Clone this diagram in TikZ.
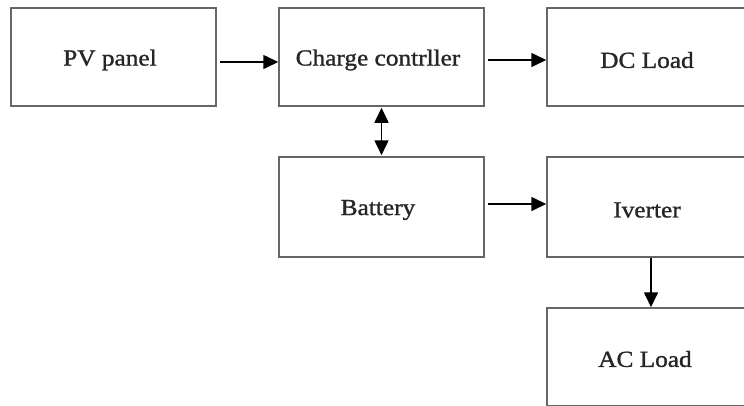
\documentclass[tikz,border=0pt]{standalone}
\usepackage{fontspec}
\newfontfamily\boxfont[FakeStretch=1.1,FakeBold=1.2]{Liberation Serif}
\usetikzlibrary{arrows.meta}
\begin{document}
\begin{tikzpicture}[x=1pt,y=-1pt,
  lbl/.style={font=\boxfont\fontsize{23}{27}\selectfont, text=black!85, inner sep=0pt},
  blk/.style={draw=black!60, line width=1.5pt, minimum width=205pt, minimum height=98pt, inner sep=0pt},
  tip/.tip={Triangle[length=15pt,width=14pt]},
  arr/.style={draw=black, line width=1.6pt, -tip},
  darr/.style={draw=black, line width=1.6pt, tip-tip}]
\useasboundingbox (0,0) rectangle (744,405);
\clip (0,0) rectangle (744,405);
\fill[white] (0,0) rectangle (744,405);
\node[blk] (pv) at (113.5,57) {};
\node[blk] (cc) at (381.5,57) {};
\node[blk] (dc) at (649.5,57) {};
\node[blk, minimum height=100pt] (bat) at (381.5,207) {};
\node[blk, minimum height=100pt] (inv) at (649.5,207) {};
\node[blk] (ac) at (649.5,357) {};
\node[lbl] (pvt) at (110,60) {PV panel};
\node[lbl] (cct) at (378,60) {Charge contrller};
\node[lbl] (dct) at (647,60) {DC Load};
\node[lbl] (batt) at (378,210) {Battery};
\node[lbl] (invt) at (647,210) {Iverter};
\node[lbl] (act) at (645,359) {AC Load};
\draw[arr, shorten <=3pt] ([yshift=-5pt]pv.east) -- ([yshift=-5pt]cc.west);
\draw[arr, shorten <=3pt] ([yshift=-3pt]cc.east) -- ([yshift=-3pt]dc.west);
\draw[arr, shorten <=3pt] ([yshift=3pt]bat.east) -- ([yshift=3pt]inv.west);
\draw[darr, shorten <=1pt, shorten >=1pt] (cc.south) -- (bat.north);
\draw[arr] ([xshift=1.5pt]inv.south) -- ([xshift=1.5pt]ac.north);
\end{tikzpicture}
\end{document}
